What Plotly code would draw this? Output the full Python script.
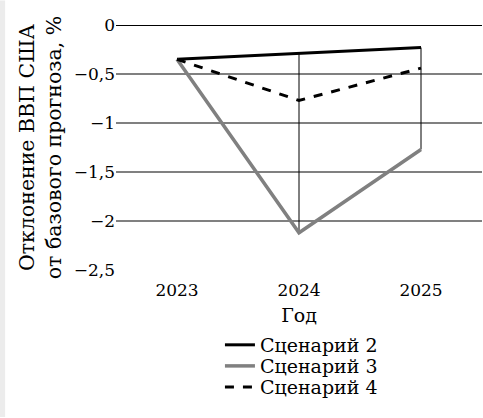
import plotly.graph_objects as go

years = ["2023", "2024", "2025"]
scen2 = [-0.35, -0.29, -0.23]
scen3 = [-0.35, -2.12, -1.27]
scen4 = [-0.35, -0.77, -0.44]
yticks = [0, -0.5, -1, -1.5, -2, -2.5]
yticklabels = ["0", "−0,5", "−1", "−1,5", "−2", "−2,5"]

FONT = "DejaVu Serif"
F = dict(family=FONT, size=17, color="black")
FT = dict(family=FONT, size=19, color="black")
FY = dict(family=FONT, size=20.5, color="black")
fig = go.Figure()

# high-low drop lines
for i, y in enumerate(years):
    vals = [scen2[i], scen3[i], scen4[i]]
    fig.add_trace(go.Scatter(x=[y, y], y=[max(vals), min(vals)], mode="lines",
                             line=dict(color="black", width=1), showlegend=False, hoverinfo="skip"))

fig.add_trace(go.Scatter(x=years, y=scen2, mode="lines", name="Сценарий 2",
                         line=dict(color="black", width=3), legend="legend"))
fig.add_trace(go.Scatter(x=years, y=scen3, mode="lines", name="Сценарий 3",
                         line=dict(color="#808080", width=3.5), legend="legend2"))
fig.add_trace(go.Scatter(x=years, y=scen4, mode="lines", name="Сценарий 4",
                         line=dict(color="black", width=3, dash="dash"), legend="legend3"))

leg = dict(orientation="v", x=0.284, xanchor="left", yanchor="middle",
           font=FT, itemwidth=30, bgcolor="rgba(0,0,0,0)")

fig.update_layout(
    width=483, height=418,
    margin=dict(l=116, r=1, t=25, b=148, autoexpand=False),
    paper_bgcolor="white", plot_bgcolor="white",
    font=F,
    showlegend=True,
    legend=dict(leg, y=-0.306),
    legend2=dict(leg, y=-0.392),
    legend3=dict(leg, y=-0.478),
    xaxis=dict(type="category", range=[-0.5, 2.5], showgrid=False, showline=False,
               ticks="", tickfont=F, ticklabelstandoff=8,
               title=dict(text="Год", standoff=9, font=FT), zeroline=False),
    yaxis=dict(range=[-2.5, 0], tickvals=yticks, ticktext=yticklabels, tickfont=F,
               showgrid=True, gridcolor="#808080", gridwidth=2, zeroline=False,
               showline=False, ticks="",
               title=dict(text="Отклонение ВВП США<br>от базового прогноза, %", standoff=6, font=FY)),
    shapes=[
        dict(type="line", xref="paper", yref="y", x0=0, x1=1, y0=0, y1=0,
             line=dict(color="black", width=2)),
        dict(type="rect", xref="paper", yref="paper", x0=-0.317, x1=-0.303, y0=-0.6, y1=1.1,
             fillcolor="#ececec", line=dict(width=0), layer="below"),
    ],
)

fig.write_html("out.html", config={"displayModeBar": False},
               post_script="document.body.style.margin='0px';document.body.style.padding='0px';")
